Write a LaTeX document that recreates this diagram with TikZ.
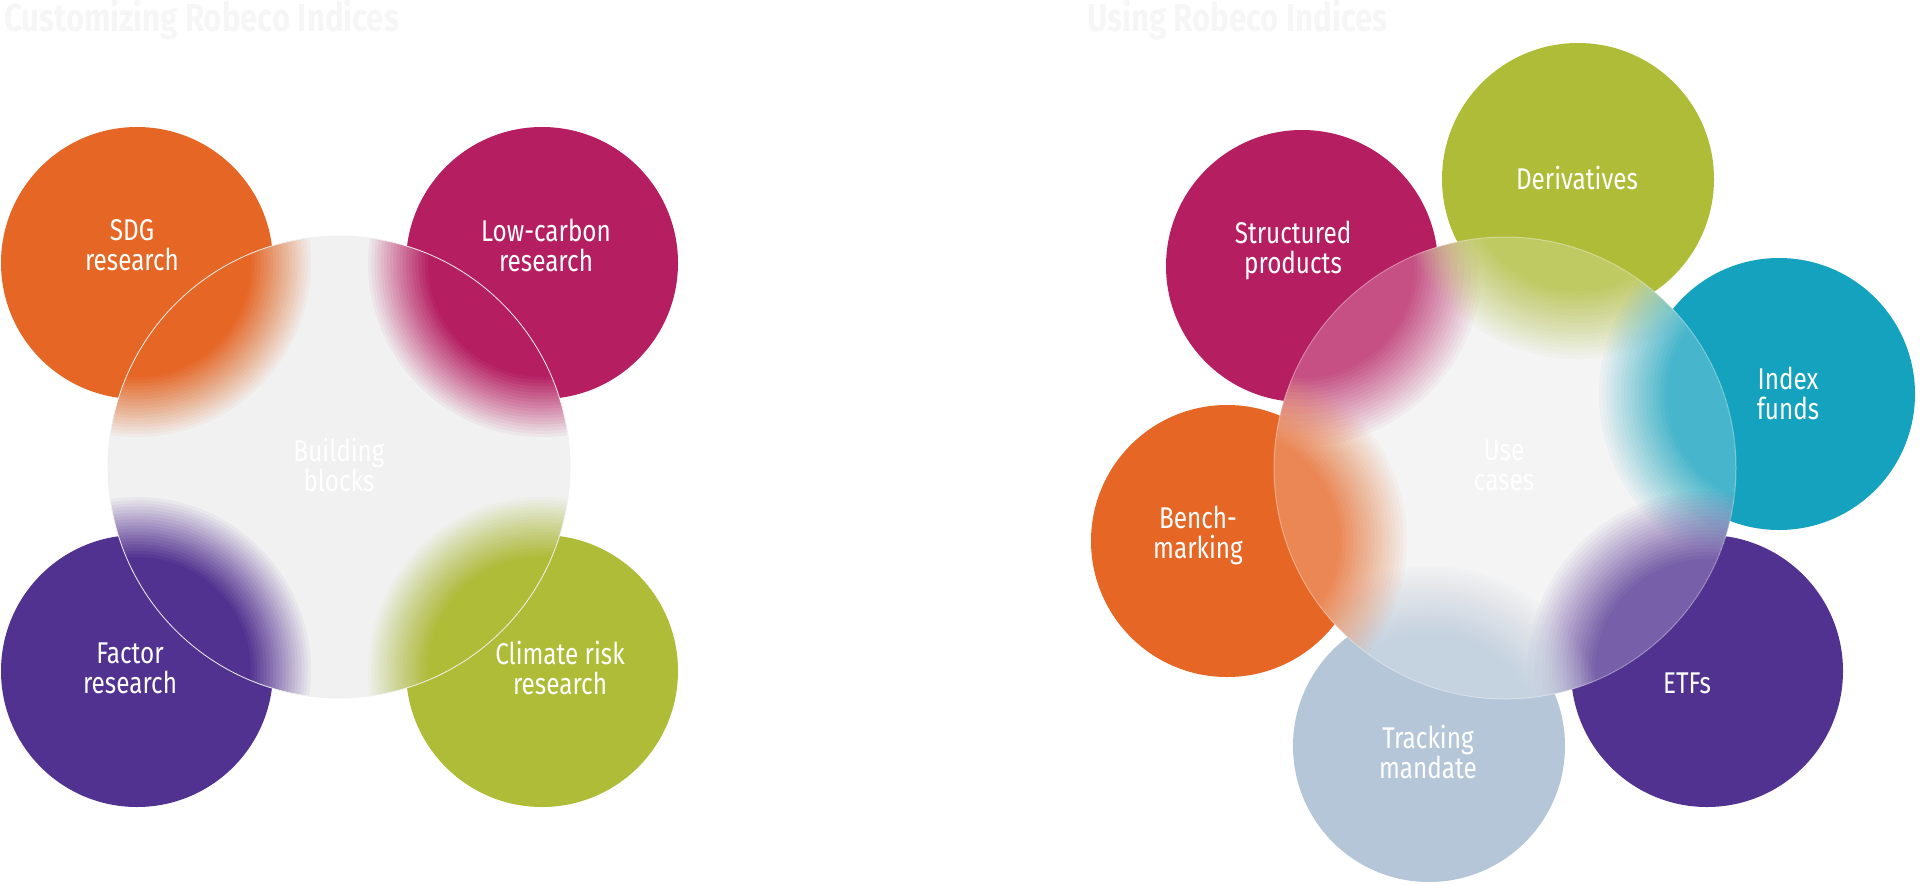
\documentclass[tikz,border=0pt]{standalone}
\usepackage{fontspec}
\setmainfont{Fira Sans}[FakeStretch=0.81]
\newfontfamily\titlefont{Fira Sans}[FakeStretch=0.80]
\definecolor{cOrange}{RGB}{230,102,37}
\definecolor{cMagenta}{RGB}{182,30,98}
\definecolor{cPurple}{RGB}{81,50,145}
\definecolor{cGreen}{RGB}{175,188,56}
\definecolor{cTeal}{RGB}{20,162,190}
\definecolor{cPale}{RGB}{181,198,216}
\definecolor{cCore}{RGB}{241,241,241}
\definecolor{cTitle}{RGB}{246,246,246}
\tikzset{
  bubble/.style={circle, draw=none, inner sep=0pt, outer sep=0pt, minimum size=272pt},
  core/.style={circle, draw=none, inner sep=0pt, outer sep=0pt, minimum size=462pt},
  lbl/.style={text=white, align=center, font=\fontsize{30}{30}\selectfont, inner sep=0pt},
  ttl/.style={text=cTitle, anchor=base west, font=\titlefont\bfseries\fontsize{39}{44}\selectfont, inner sep=0pt}
}
% blurred blob: #1 centre, #2 colour, #3 mid radius, #4 half width
\newcommand{\softblob}[4]{%
  \foreach \i in {1,...,20}{%
    \pgfmathsetmacro{\rr}{#3+#4-(\i-1)*2*#4/19}%
    \pgfmathsetmacro{\aa}{1/(21-\i)}%
    \fill[#2, fill opacity=\aa] #1 circle[radius=\rr pt];
  }%
}
\begin{document}
\begin{tikzpicture}[x=1pt,y=-1pt]
\useasboundingbox (0,0) rectangle (1920,884);

% titles
\node[ttl] (t1) at (4,31) {Customizing Robeco Indices};
\node[ttl] (t2) at (1087,31) {Using Robeco Indices};

% ---------------- left diagram ----------------
\node[bubble, fill=cOrange]  (sdg)  at (137,263) {};
\node[bubble, fill=cMagenta] (lowc) at (542,263) {};
\node[bubble, fill=cPurple]  (fac)  at (137,671) {};
\node[bubble, fill=cGreen]   (clim) at (542,671) {};

\node[core] (bb) at (339,467) {};
\begin{scope}
  \clip (bb.center) circle[radius=231pt];
  \fill[cCore] (bb.center) circle[radius=231pt];
  \softblob{(sdg.center)}{cOrange}{144}{30}
  \softblob{(lowc.center)}{cMagenta}{144}{30}
  \softblob{(fac.center)}{cPurple}{144}{30}
  \softblob{(clim.center)}{cGreen}{144}{30}
\end{scope}
\draw[black!6, line width=0.8pt] (bb.center) circle[radius=231pt];

\node[lbl] (sdgt)  at (132,245) {SDG\\research};
\node[lbl] (lowct) at (546,245) {Low-carbon\\research};
\node[lbl] (fact)  at (130,668) {Factor\\research};
\node[lbl] (climt) at (560,668) {Climate risk\\research};
\node[lbl] (bbt)   at (339,465) {Building\\blocks};

% ---------------- right diagram ----------------
\node[bubble, fill=cMagenta] (str)  at (1302,266) {};
\node[bubble, fill=cGreen]   (der)  at (1578,179) {};
\node[bubble, fill=cTeal]    (idx)  at (1779,394) {};
\node[bubble, fill=cPurple]  (etf)  at (1707,671) {};
\node[bubble, fill=cPale]    (trk)  at (1429,746) {};
\node[bubble, fill=cOrange]  (ben)  at (1227,541) {};

\node[core] (uc) at (1505,468) {};
\begin{scope}
  \clip (uc.center) circle[radius=231pt];
  \fill[cCore] (uc.center) circle[radius=231pt];
  \softblob{(str.center)}{cMagenta}{146}{34}
  \softblob{(der.center)}{cGreen}{146}{34}
  \softblob{(idx.center)}{cTeal}{146}{34}
  \softblob{(etf.center)}{cPurple}{146}{34}
  \softblob{(trk.center)}{cPale}{146}{34}
  \softblob{(ben.center)}{cOrange}{146}{34}
  \fill[white, fill opacity=0.22] (uc.center) circle[radius=231pt];
\end{scope}
\draw[white, opacity=0.35, line width=1pt] (uc.center) circle[radius=231pt];

\node[lbl] (strt) at (1293,250) {Structured\\products};
\node[lbl] (dert) at (1577,178) {Derivatives};
\node[lbl] (idxt) at (1788,393) {Index\\funds};
\node[lbl] (etft) at (1687,683) {ETFs};
\node[lbl] (trkt) at (1428,752) {Tracking\\mandate};
\node[lbl] (bent) at (1198,535) {Bench-\\marking};
\node[lbl] (uct)  at (1504,465) {Use\\cases};
\end{tikzpicture}
\end{document}
